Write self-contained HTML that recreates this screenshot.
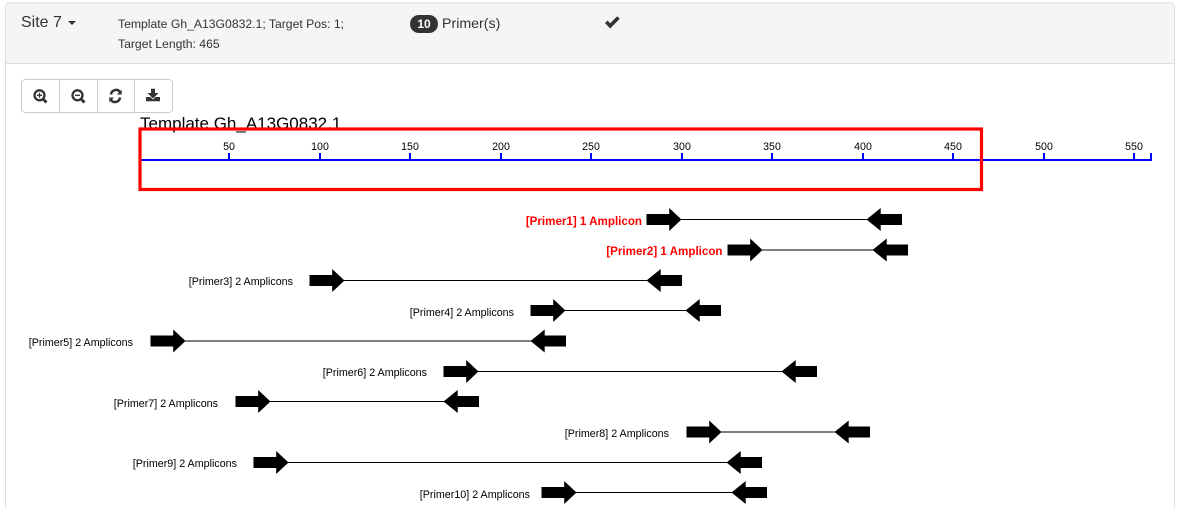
<!DOCTYPE html>
<html><head><meta charset="utf-8"><style>
html,body{margin:0;padding:0;background:#fff}
body{width:1180px;height:508px;overflow:hidden;position:relative;font-family:"Liberation Sans",Arial,sans-serif}
svg{position:absolute;left:0;top:0;display:block}
</style></head><body>
<svg width="1180" height="508" viewBox="0 0 1180 508" font-family="'Liberation Sans',Arial,sans-serif">
<defs>
<g id="r"><path d="M0-5.500H22.700V-11.500L35 0 22.700 11.500V5.500H0Z" fill="#000"/></g>
<g id="l"><path d="M35.500-5.500H14.200V-11.500L0 0 14.200 11.500V5.500H35.500Z" fill="#000"/></g>
</defs>
<!-- card -->
<path d="M5.500 508V7a4 4 0 0 1 4-4H1170.500a4 4 0 0 1 4 4V508" fill="#fff" stroke="#ddd"/>
<path d="M6 63V7a3.500 3.500 0 0 1 3.500-3.500H1170.500a3.500 3.500 0 0 1 3.500 3.500V63Z" fill="#f5f5f5"/>
<line x1="6" x2="1174" y1="63.500" y2="63.500" stroke="#ddd"/>
<text x="21" y="27" font-size="16" fill="#333">Site 7</text>
<path d="M68 21h8l-4 4z" fill="#333"/>
<text x="118" y="28" font-size="12.200" fill="#333">Template Gh_A13G0832.1; Target Pos: 1;</text>
<text x="118" y="48" font-size="12.200" fill="#333">Target Length: 465</text>
<rect x="410" y="15" width="28" height="18" rx="9" fill="#333"/>
<text x="424" y="28" font-size="12" font-weight="bold" fill="#fff" text-anchor="middle">10</text>
<text x="442" y="28" font-size="14.200" fill="#333">Primer(s)</text>
<path d="M605 23l2.500-2.500 2.700 2.700 7-7 2.500 2.500-9.500 9.800z" fill="#333"/>
<!-- toolbar -->
<rect x="21.500" y="79.500" width="151" height="33" rx="4" fill="#fff" stroke="#ccc"/>
<path d="M59.500 80v32M97.500 80v32M134.500 80v32" stroke="#ccc"/>
<g fill="none" stroke="#333" stroke-width="2.300">
<circle cx="39.500" cy="95.300" r="5"/><path d="M43 99l3.500 3.500" stroke-width="2.800"/><path d="M37 95.300h5M39.500 92.800v5" stroke-width="1.300"/>
<circle cx="77.500" cy="95.300" r="5"/><path d="M81 99l3.500 3.500" stroke-width="2.800"/><path d="M75 95.300h5" stroke-width="1.300"/>
<path d="M111 94.500a5 5 0 0 1 9-2.500M120 97.500a5 5 0 0 1-9 2.500" stroke-width="2.500"/>
</g>
<path d="M117 94.500l4.700-4.700v4.700zM114 97.500l-4.700 4.700v-4.700z" fill="#333"/>
<path d="M151 88.700h4v4.300h3.500l-5.500 5.500-5.500-5.500h3.500zM146 97h4.500l2.500 2.500 2.500-2.500h4.500v4.300h-14z" fill="#333"/>
<!-- title -->
<text x="140" y="129" font-size="17" fill="#000">Template Gh_A13G0832.1</text>
<!-- axis -->
<g stroke="#00f" stroke-width="2" fill="none">
<path d="M140 160H1152"/>
<path d="M229 153V160M320 153V160M410 153V160M501 153V160M591 153V160M682 153V160M772 153V160M863 153V160M953 153V160M1044 153V160M1134 153V160M1151 153V160"/>
</g>
<g font-size="10.600" fill="#000" text-anchor="middle">
<text x="229" y="150">50</text><text x="320" y="150">100</text><text x="410" y="150">150</text><text x="501" y="150">200</text><text x="591" y="150">250</text><text x="682" y="150">300</text><text x="772" y="150">350</text><text x="863" y="150">400</text><text x="953" y="150">450</text><text x="1044" y="150">500</text><text x="1134" y="150">550</text>
</g>
<rect x="140" y="129" width="841.500" height="60.500" fill="none" stroke="#f00" stroke-width="3.200"/>
<!-- primers -->
<g stroke="#000" stroke-width="1">
<line x1="680" x2="868" y1="219.500" y2="219.500"/>
<line x1="761" x2="874" y1="250" y2="250"/>
<line x1="343" x2="648" y1="280.500" y2="280.500"/>
<line x1="564" x2="687" y1="310.500" y2="310.500"/>
<line x1="184" x2="532" y1="341" y2="341"/>
<line x1="477" x2="783" y1="371.500" y2="371.500"/>
<line x1="269" x2="445" y1="401.500" y2="401.500"/>
<line x1="720" x2="836" y1="432" y2="432"/>
<line x1="287" x2="728" y1="462.500" y2="462.500"/>
<line x1="575" x2="733" y1="492.500" y2="492.500"/>
</g>
<use href="#r" x="646.500" y="219.500"/><use href="#l" x="866.500" y="219.500"/>
<use href="#r" x="727.500" y="250"/><use href="#l" x="872.500" y="250"/>
<use href="#r" x="309.500" y="280.500"/><use href="#l" x="646.500" y="280.500"/>
<use href="#r" x="530.500" y="310.500"/><use href="#l" x="685.500" y="310.500"/>
<use href="#r" x="150.500" y="341"/><use href="#l" x="530.500" y="341"/>
<use href="#r" x="443.500" y="371.500"/><use href="#l" x="781.500" y="371.500"/>
<use href="#r" x="235.500" y="401.500"/><use href="#l" x="443.500" y="401.500"/>
<use href="#r" x="686.500" y="432"/><use href="#l" x="834.500" y="432"/>
<use href="#r" x="253.500" y="462.500"/><use href="#l" x="726.500" y="462.500"/>
<use href="#r" x="541.500" y="492.500"/><use href="#l" x="731.500" y="492.500"/>
<g font-size="10.720" text-anchor="end" fill="#000">
<text x="642" y="225" fill="#f00" font-weight="bold" font-size="11.600">[Primer1] 1 Amplicon</text>
<text x="722.500" y="255" fill="#f00" font-weight="bold" font-size="11.600">[Primer2] 1 Amplicon</text>
<text x="293" y="285">[Primer3] 2 Amplicons</text>
<text x="514" y="316">[Primer4] 2 Amplicons</text>
<text x="133" y="346">[Primer5] 2 Amplicons</text>
<text x="427" y="376">[Primer6] 2 Amplicons</text>
<text x="218" y="407">[Primer7] 2 Amplicons</text>
<text x="669" y="437">[Primer8] 2 Amplicons</text>
<text x="237" y="467">[Primer9] 2 Amplicons</text>
<text x="530" y="498">[Primer10] 2 Amplicons</text>
</g>
</svg>
</body></html>
